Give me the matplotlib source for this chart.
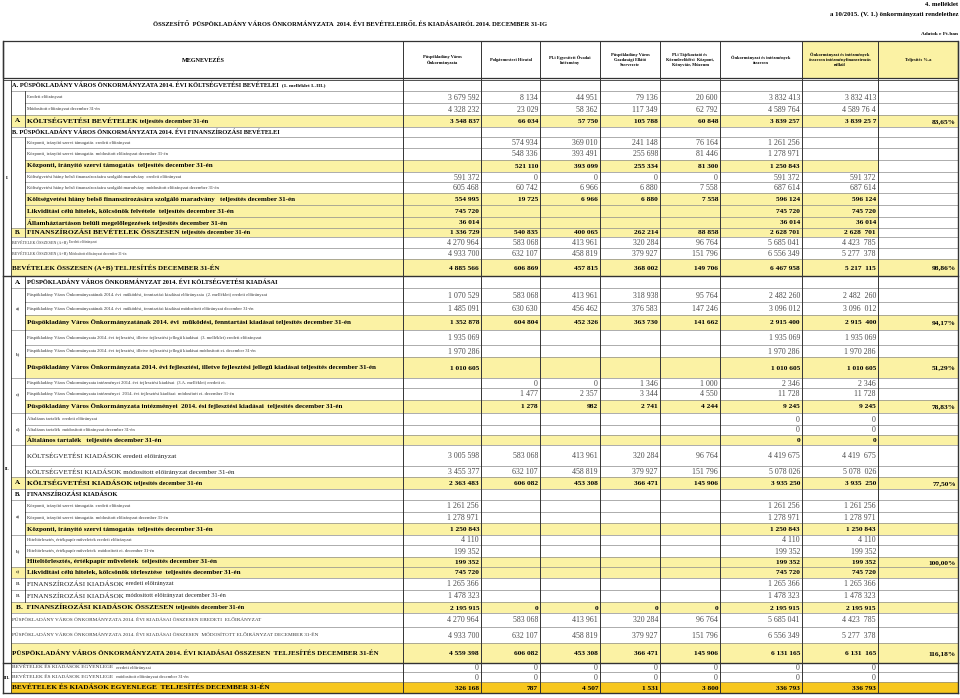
import matplotlib
matplotlib.use('Agg')
import matplotlib.pyplot as plt
from matplotlib.patches import Rectangle

SERIF = 'Liberation Serif'
YELLOW = '#fbf2a4'
ORANGE = '#f7c71f'
GRID = '#8c8c8c'
DARK = '#333333'
NUMGRAY = '#4a4a4a'

title = 'ÖSSZESÍTŐ  PÜSPÖKLADÁNY VÁROS ÖNKORMÁNYZATA  2014. ÉVI BEVÉTELEIRŐL ÉS KIADÁSAIRÓL 2014. DECEMBER 31-IG'
col_heads = ['Püspökladány Város\nÖnkormányzata', 'Polgármesteri Hivatal',
             'Pl-i Egyesített Óvodai\nIntézmény', 'Püspökladány Város\nGazdasági Ellátó\nSzervezete',
             'Pl-i Tájékoztató és\nKözművelődési  Központ,\nKönyvtár, Múzeum',
             'Önkormányzat és intézmények\nösszesen',
             'Önkormányzat és intézmények\nösszesen intézményfinanszírozás\nnélkül',
             'Teljesítés %-a']

# label text of every row (main part, smaller tail part)
label_main = [
    'A. PÜSPÖKLADÁNY VÁROS ÖNKORMÁNYZATA 2014. ÉVI KÖLTSÉGVETÉSI BEVÉTELEI',
    'Eredeti előirányzat',
    'Módosított előirányzat december 31-én',
    'KÖLTSÉGVETÉSI BEVÉTELEK',
    'B. PÜSPÖKLADÁNY VÁROS ÖNKORMÁNYZATA 2014. ÉVI FINANSZÍROZÁSI BEVÉTELEI',
    'Központi, irányító szervi támogatás  eredeti előirányzat',
    'Központi, irányító szervi támogatás  módosított előirányzat december 31-én',
    'Központi, irányító szervi támogatás  teljesítés december 31-én',
    'Költségvetési hiány belső finanszírozására szolgáló maradvány  eredeti előirányzat',
    'Költségvetési hiány belső finanszírozására szolgáló maradvány  módosított előirányzat december 31-én',
    'Költségvetési hiány belső finanszírozására szolgáló maradvány   teljesítés december 31-én',
    'Likviditási célú hitelek, kölcsönök felvétele  teljesítés december 31-én',
    'Államháztartáson belüli megelőlegezések teljesítés december 31-én',
    'FINANSZÍROZÁSI BEVÉTELEK ÖSSZESEN',
    'BEVÉTELEK ÖSSZESEN (A+B)',
    'BEVÉTELEK ÖSSZESEN (A+B)',
    'BEVÉTELEK ÖSSZESEN (A+B) TELJESÍTÉS DECEMBER 31-ÉN',
    'PÜSPÖKLADÁNY VÁROS ÖNKORMÁNYZAT 2014. ÉVI KÖLTSÉGVETÉSI KIADÁSAI',
    'Püspökladány Város Önkormányzatának 2014. évi  működési, fenntartási kiadásai előirányzata  (2. melléklet) eredeti előirányzat',
    'Püspökladány Város Önkormányzatának 2014. évi  működési, fenntartási kiadásai módosított előirányzat december 31-én',
    'Püspökladány Város Önkormányzatának 2014. évi  működési, fenntartási kiadásai teljesítés december 31-én',
    'Püspökladány Város Önkormányzata 2014. évi fejlesztési, illetve fejlesztési jellegű kiadásai  (3. melléklet) eredeti előirányzat',
    'Püspökladány Város Önkormányzata 2014. évi fejlesztési, illetve fejlesztési jellegű kiadásai módosított ei. december 31-én',
    'Püspökladány Város Önkormányzata 2014. évi fejlesztési, illetve fejlesztési jellegű kiadásai teljesítés december 31-én',
    'Püspökladány Város Önkormányzata intézményei 2014. évi fejlesztési kiadásai  (3.A. melléklet) eredeti ei.',
    'Püspökladány Város Önkormányzata intézményei  2014. évi fejlesztési kiadásai  módosított ei. december 31-én',
    'Püspökladány Város Önkormányzata intézményei  2014. ési fejlesztési kiadásai  teljesítés december 31-én',
    'Általános tartalék  eredeti előirányzat',
    'Általános tartalék  módosított előirányzat december 31-én',
    'Általános tartalék   teljesítés december 31-én',
    'KÖLTSÉGVETÉSI KIADÁSOK eredeti előirányzat',
    'KÖLTSÉGVETÉSI KIADÁSOK módosított előirányzat december 31-én',
    'KÖLTSÉGVETÉSI KIADÁSOK',
    'FINANSZÍROZÁSI KIADÁSOK',
    'Központi, irányító szervi támogatás  eredeti előirányzat',
    'Központi, irányító szervi támogatás  módosított előirányzat december 31-én',
    'Központi, irányító szervi támogatás  teljesítés december 31-én',
    'Hiteltörlesztés, értékpapír műveletek eredeti előirányzat',
    'Hiteltörlesztés, értékpapír műveletek  módosított ei. december 31-én',
    'Hiteltörlesztés, értékpapír műveletek  teljesítés december 31-én',
    'Likviditási célú hitelek, kölcsönök törlesztése  teljesítés december 31-én',
    'FINANSZÍROZÁSI KIADÁSOK',
    'FINANSZÍROZÁSI KIADÁSOK',
    'B.  FINANSZÍROZÁSI KIADÁSOK ÖSSZESEN',
    'PÜSPÖKLADÁNY VÁROS ÖNKORMÁNYZATA 2014. ÉVI KIADÁSAI ÖSSZESEN EREDETI  ELŐIRÁNYZAT',
    'PÜSPÖKLADÁNY VÁROS ÖNKORMÁNYZATA 2014. ÉVI KIADÁSAI ÖSSZESEN  MÓDOSÍTOTT ELŐIRÁNYZAT DECEMBER 31-ÉN',
    'PÜSPÖKLADÁNY VÁROS ÖNKORMÁNYZATA 2014. ÉVI KIADÁSAI ÖSSZESEN  TELJESÍTÉS DECEMBER 31-ÉN',
    'BEVÉTELEK ÉS KIADÁSOK EGYENLEGE',
    'BEVÉTELEK ÉS KIADÁSOK EGYENLEGE',
    'BEVÉTELEK ÉS KIADÁSOK EGYENLEGE  TELJESÍTÉS DECEMBER 31-ÉN',
]
label_tail = [''] * 50
label_tail[0] = '  (1. melléklet I.-III.)'
label_tail[3] = ' teljesítés december 31-én'
label_tail[13] = ' teljesítés december 31-én'
label_tail[14] = ' Eredeti előirányzat'
label_tail[15] = ' Módosított előirányzat december 31-én'
label_tail[32] = ' teljesítés december 31-én'
label_tail[41] = ' eredeti előirányzat'
label_tail[42] = ' módosított előirányzat december 31-én'
label_tail[43] = ' teljesítés december 31-én'
label_tail[47] = '  eredeti előirányzat'
label_tail[48] = '  módosított előirányzat december 31-én'

# letter cell: None = label spans, '' = empty cell, '^' = merged with row above
letters = [None, '', '^', 'A.', None, '', '^', '^', '^', '^', '^', '^', '^', 'B.', None, None, None,
           'A.', 'a)', '^', '^', 'b)', '^', '^', 'c)', '^', '^', 'd)', '^', '^', '', '^', 'A.', 'B.',
           'a)', '^', '^', 'b)', '^', '^', 'c)', 'B.', 'B.', None, None, None, None, None, None, None]

romans = ['I.', 'II.', 'III.']
roman_rows = [(0, 17), (17, 47), (47, 50)]

styles = ['H1', 'T', 'T', 'YC', 'H1', 'T', 'T', 'Y', 'T', 'T', 'Y', 'Y', 'Y', 'YC', 'c', 'c', 'B',
          'H2', 'T', 'T', 'Y', 'T', 'T', 'Y', 'T', 'T', 'Y', 'T', 'T', 'Y', 'N', 'N', 'YC', 'H2',
          'T', 'T', 'Y', 'T', 'T', 'Y', 'Y', 'N', 'N', 'YC', 'C', 'C', 'B', 'E', 'E', 'O']

col_onk = ['', '3 679 592', '4 328 232', '3 548 837', '', '', '', '', '591 372', '605 468',
           '554 995', '745 720', '36 014', '1 336 729', '4 270 964', '4 933 700', '4 885 566', '', '1 070 529', '1 485 091',
           '1 352 878', '1 935 069', '1 970 286', '1 010 605', '', '', '', '', '', '',
           '3 005 598', '3 455 377', '2 363 483', '', '1 261 256', '1 278 971', '1 250 843', '4 110', '199 352', '199 352',
           '745 720', '1 265 366', '1 478 323', '2 195 915', '4 270 964', '4 933 700', '4 559 398', '0', '0', '326 168']
col_hiv = ['', '8 134', '23 029', '66 034', '', '574 934', '548 336', '521 110', '0', '60 742',
           '19 725', '', '', '540 835', '583 068', '632 107', '606 869', '', '583 068', '630 630',
           '604 804', '', '', '', '0', '1 477', '1 278', '', '', '',
           '583 068', '632 107', '606 082', '', '', '', '', '', '', '',
           '', '', '', '0', '583 068', '632 107', '606 082', '0', '0', '787']
col_ovi = ['', '44 951', '58 362', '57 750', '', '369 010', '393 491', '393 099', '0', '6 966',
           '6 966', '', '', '400 065', '413 961', '458 819', '457 815', '', '413 961', '456 462',
           '452 326', '', '', '', '0', '2 357', '982', '', '', '',
           '413 961', '458 819', '453 308', '', '', '', '', '', '', '',
           '', '', '', '0', '413 961', '458 819', '453 308', '0', '0', '4 507']
col_gesz = ['', '79 136', '117 349', '105 788', '', '241 148', '255 698', '255 334', '0', '6 880',
            '6 880', '', '', '262 214', '320 284', '379 927', '368 002', '', '318 938', '376 583',
            '363 730', '', '', '', '1 346', '3 344', '2 741', '', '', '',
            '320 284', '379 927', '366 471', '', '', '', '', '', '', '',
            '', '', '', '0', '320 284', '379 927', '366 471', '0', '0', '1 531']
col_tkk = ['', '20 600', '62 792', '60 848', '', '76 164', '81 446', '81 300', '0', '7 558',
           '7 558', '', '', '88 858', '96 764', '151 796', '149 706', '', '95 764', '147 246',
           '141 662', '', '', '', '1 000', '4 550', '4 244', '', '', '',
           '96 764', '151 796', '145 906', '', '', '', '', '', '', '',
           '', '', '', '0', '96 764', '151 796', '145 906', '0', '0', '3 800']
col_ossz = ['', '3 832 413', '4 589 764', '3 839 257', '', '1 261 256', '1 278 971', '1 250 843', '591 372', '687 614',
            '596 124', '745 720', '36 014', '2 628 701', '5 685 041', '6 556 349', '6 467 958', '', '2 482 260', '3 096 012',
            '2 915 400', '1 935 069', '1 970 286', '1 010 605', '2 346', '11 728', '9 245', '0', '0', '0',
            '4 419 675', '5 078 026', '3 935 250', '', '1 261 256', '1 278 971', '1 250 843', '4 110', '199 352', '199 352',
            '745 720', '1 265 366', '1 478 323', '2 195 915', '5 685 041', '6 556 349', '6 131 165', '0', '0', '336 793']
col_nelkul = ['', '3 832 413', '4 589 76 4', '3 839 25 7', '', '', '', '', '591 372', '687 614',
              '596 124', '745 720', '36 014', '2 628  701', '4 423  785', '5 277  378', '5 217  115', '', '2 482  260', '3 096  012',
              '2 915  400', '1 935 069', '1 970 286', '1 010 605', '2 346', '11 728', '9 245', '0', '0', '0',
              '4 419  675', '5 078  026', '3 935  250', '', '1 261 256', '1 278 971', '1 250 843', '4 110', '199 352', '199 352',
              '745 720', '1 265 366', '1 478 323', '2 195 915', '4 423  785', '5 277  378', '6 131  165', '0', '0', '336 793']
col_pct = [''] * 50
col_pct[3] = '83,65%'
col_pct[16] = '98,86%'
col_pct[20] = '94,17%'
col_pct[23] = '51,29%'
col_pct[26] = '78,83%'
col_pct[32] = '77,50%'
col_pct[39] = '100,00%'
col_pct[46] = '116,18%'

value_cols = [col_onk, col_hiv, col_ovi, col_gesz, col_tkk, col_ossz, col_nelkul, col_pct]

# layout (pixels)
row_edges = [80, 91, 103, 115, 127, 137, 148, 160, 172, 182, 193, 205, 217, 228, 237, 248, 259, 276,
             288, 302, 315, 330, 345, 357, 378, 388, 400, 413, 425, 435, 445, 466, 477, 489, 500, 512,
             523, 535, 545, 557, 567, 578, 590, 602, 613, 627, 643, 663, 672, 682, 693]
col_edges = [403, 481, 540, 600, 660, 720, 802, 878, 958]
X0, XR, XL = 3, 11, 25
HEAD_TOP, HEAD_BOT = 41, 78

label_font = {  # main size, main weight, tail size, colour
    'H1': (4.6, 'bold', 3.8, 'black'),
    'H2': (4.6, 'bold', 4.0, 'black'),
    'T': (3.3, 'normal', 3.3, '#333333'),
    'Y': (5.0, 'bold', 4.4, 'black'),
    'YC': (5.4, 'bold', 4.6, 'black'),
    'N': (5.1, 'normal', 4.6, '#222222'),
    'c': (2.9, 'normal', 2.6, '#333333'),
    'C': (3.8, 'normal', 3.8, '#333333'),
    'E': (3.9, 'normal', 3.3, '#333333'),
    'B': (5.0, 'bold', 5.0, 'black'),
    'O': (5.2, 'bold', 5.2, 'black'),
}
yellow_styles = ('Y', 'YC', 'B', 'O')

fig = plt.figure(figsize=(9.6, 6.98), dpi=100)
ax = fig.add_axes([0, 0, 1, 1])
ax.set_xlim(0, 960)
ax.set_ylim(698, 0)
ax.axis('off')
rend = fig.canvas.get_renderer()

# top texts
ax.text(958, 4, '4. melléklet', ha='right', va='center', fontsize=4.9, fontweight='bold', family=SERIF)
ax.text(958, 14, 'a 10/2015. (V. 1.) önkormányzati rendelethez', ha='right', va='center',
        fontsize=4.9, fontweight='bold', family=SERIF)
ax.text(350, 24, title, ha='center', va='center', fontsize=4.65, fontweight='bold', family=SERIF)
ax.text(958, 34, 'Adatok e Ft-ban', ha='right', va='center', fontsize=3.8, fontweight='bold', family=SERIF)

# header
for i in (6, 7):
    ax.add_patch(Rectangle((col_edges[i], HEAD_TOP), col_edges[i + 1] - col_edges[i], HEAD_BOT - HEAD_TOP,
                           facecolor=YELLOW, edgecolor='none'))
ax.text((X0 + col_edges[0]) / 2, 60, 'MEGNEVEZÉS', ha='center', va='center', fontsize=4.4,
        fontweight='bold', family=SERIF)
for i, h in enumerate(col_heads):
    ax.text((col_edges[i] + col_edges[i + 1]) / 2, 60, h, ha='center', va='center', fontsize=3.2,
            fontweight='bold', family=SERIF, linespacing=1.35)
ax.add_patch(Rectangle((X0, HEAD_TOP), 958 - X0, HEAD_BOT - HEAD_TOP, facecolor='none', edgecolor=DARK, lw=0.9))
ax.plot([X0, 958], [row_edges[0] - 0.5, row_edges[0] - 0.5], color=DARK, lw=0.6)

n = len(styles)


def is_yellow(i):
    return styles[i] in yellow_styles


def letter_group_end(i):
    j = i + 1
    while j < n and letters[j] == '^':
        j += 1
    return j


# fills
for i in range(n):
    if not is_yellow(i):
        continue
    y0, y1 = row_edges[i], row_edges[i + 1]
    color = ORANGE if styles[i] == 'O' else YELLOW
    if letters[i] is None or (letters[i] != '^' and letter_group_end(i) == i + 1):
        xs = XR
    else:
        xs = XL
    xe = col_edges[-1] if (col_pct[i] or i >= 17) else col_edges[-2]
    ax.add_patch(Rectangle((xs, y0), xe - xs, y1 - y0, facecolor=color, edgecolor='none'))

# horizontal lines
for k in range(1, n):
    y = row_edges[k]
    above, below = letters[k - 1], letters[k]
    if above is None or below is None or below != '^':
        xs = XR
    else:
        xs = XL
    ax.plot([xs, col_edges[-1]], [y, y], color=GRID, lw=0.5)
for k in (17, 47):
    ax.plot([X0, col_edges[-1]], [row_edges[k], row_edges[k]], color=DARK, lw=1.0)

# vertical lines
top, bot = row_edges[0], row_edges[-1]
for x in col_edges[:-1]:
    ax.plot([x, x], [HEAD_TOP, bot], color=DARK, lw=0.7)
for x in (X0, col_edges[-1]):
    ax.plot([x, x], [HEAD_TOP, bot], color=DARK, lw=1.0)
ax.plot([X0, col_edges[-1]], [bot, bot], color=DARK, lw=1.0)
ax.plot([XR, XR], [top, bot], color=DARK, lw=0.6)
for i in range(n):
    if letters[i] is not None:
        ax.plot([XL, XL], [row_edges[i], row_edges[i + 1]], color=DARK, lw=0.6)

# roman numerals
for r, (a, b) in zip(romans, roman_rows):
    ax.text((X0 + XR) / 2, (row_edges[a] + row_edges[b]) / 2, r, ha='center', va='center',
            fontsize=3.4, fontweight='bold', family=SERIF)

# letters
for i in range(n):
    t = letters[i]
    if t in (None, '', '^'):
        continue
    j = letter_group_end(i)
    yc = (row_edges[i] + row_edges[j]) / 2
    big = t in ('A.', 'B.') and styles[i] in ('Y', 'YC', 'H2')
    ax.text((XR + XL) / 2, yc, t, ha='center', va='center', fontsize=4.8 if big else 3.8,
            fontweight='bold' if big else 'normal', family=SERIF)

# labels
for i in range(n):
    ms, mw, ts, col = label_font[styles[i]]
    if letters[i] is None:
        x = 16 if styles[i] == 'YC' else 12.5
    else:
        x = 27
    yc = (row_edges[i] + row_edges[i + 1]) / 2
    t = ax.text(x, yc, label_main[i], ha='left', va='center', fontsize=ms, fontweight=mw,
                color=col, family=SERIF)
    if label_tail[i]:
        x2 = t.get_window_extent(renderer=rend).x1
        ax.text(x2, yc, label_tail[i], ha='left', va='center', fontsize=ts, fontweight=mw,
                color=col, family=SERIF)

# numbers
for c, vals in enumerate(value_cols):
    xr = col_edges[c + 1] - 2
    for i in range(n):
        v = vals[i]
        if not v:
            continue
        yc = (row_edges[i] + row_edges[i + 1]) / 2 + 0.5
        if is_yellow(i):
            ax.text(xr, yc, v, ha='right', va='center', fontsize=5.3, fontweight='bold',
                    color='black', family=SERIF)
        else:
            ax.text(xr, yc, v, ha='right', va='center', fontsize=5.7, color=NUMGRAY, family=SERIF)

fig.savefig('out.png', dpi=100)
